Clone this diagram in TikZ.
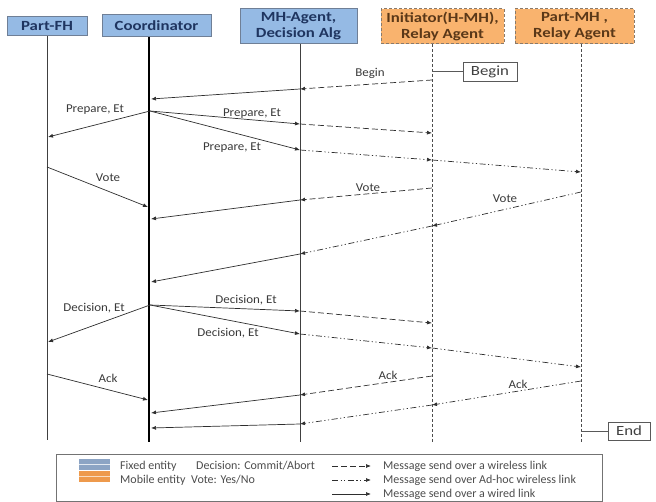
\documentclass[tikz,border=0pt]{standalone}
\usepackage{fontspec}
\setmainfont{Carlito}
\newfontfamily\hdfont[FakeStretch=1.2]{Carlito}
\newfontfamily\lbfont[FakeStretch=1.08]{Carlito}
\usetikzlibrary{arrows.meta}
\definecolor{fixedfill}{HTML}{95BAE4}
\definecolor{fixedline}{HTML}{6F7F96}
\definecolor{fixedtext}{HTML}{1F3560}
\definecolor{mobfill}{HTML}{F9B36E}
\definecolor{mobline}{HTML}{8A7A6A}
\definecolor{mobtext}{HTML}{5A3818}
\definecolor{msgcol}{HTML}{2E2E2E}
\definecolor{lblcol}{HTML}{3A3A3A}
\definecolor{swblue}{HTML}{8CA4C4}
\definecolor{sworange}{HTML}{EE9A4C}
\tikzset{
  fixedbox/.style={draw=fixedline, line width=1pt, fill=fixedfill, text=fixedtext,
    font=\hdfont\fontsize{14}{16}\selectfont\bfseries, align=center, inner sep=1pt},
  mobbox/.style={draw=mobline, line width=1pt, dash pattern=on 3pt off 2pt, fill=mobfill, text=mobtext,
    font=\hdfont\fontsize{14}{16}\selectfont\bfseries, align=center, inner sep=1pt},
  lifeline/.style={draw=black!75, line width=0.8pt},
  mlifeline/.style={draw=black!70, line width=0.8pt, dash pattern=on 3pt off 2pt},
  msg/.style={draw=msgcol, line width=0.7pt, -{Latex[length=5pt,width=4pt]}},
  wired/.style={msg},
  wl/.style={msg, dash pattern=on 6pt off 3pt},
  ah/.style={msg, dash pattern=on 6pt off 2.5pt on 1.2pt off 2.5pt on 1.2pt off 2.5pt},
  lbl/.style={font=\lbfont\fontsize{12}{13}\selectfont, text=lblcol, inner sep=1pt},
  termbox/.style={draw=black!65, line width=0.8pt, fill=white, font=\hdfont\fontsize{14}{16}\selectfont, text=black!75, inner sep=1pt},
  legtext/.style={font=\fontsize{12}{13}\selectfont, text=black!70, anchor=west, inner sep=0pt}
}
\begin{document}
\begin{tikzpicture}[x=1pt,y=-1pt]
\useasboundingbox (0,0) rectangle (656,502);
% headers
\node[fixedbox, minimum width=80, minimum height=19] (fh) at (47,26.5) {Part-FH};
\node[fixedbox, minimum width=109, minimum height=22] (co) at (156.5,26) {Coordinator};
\node[fixedbox, minimum width=117, minimum height=35] (mh) at (298.5,26.5) {MH-Agent,\\Decision Alg};
\node[mobbox, minimum width=123, minimum height=35] (in) at (442.5,26.5) {Initiator(H-MH),\\Relay Agent};
\node[mobbox, minimum width=119, minimum height=35] (pm) at (574.5,26.5) {Part-MH ,\\Relay Agent};
% lifelines
\coordinate (fhb) at (47,440);
\coordinate (cot) at (149,37); \coordinate (cob) at (149,442);
\coordinate (mht) at (300,44); \coordinate (mhb) at (300,442);
\coordinate (int) at (432,44); \coordinate (inb) at (432,442);
\coordinate (pmt) at (581,44); \coordinate (pmb) at (581,442);
\draw[lifeline] (fh.south) -- (fhb);
\draw[draw=black, line width=2pt] (cot) -- (cob);
\draw[lifeline] (mht) -- (mhb);
\draw[mlifeline] (int) -- (inb);
\draw[mlifeline] (pmt) -- (pmb);
% begin / end
\node[termbox, minimum width=54, minimum height=19] (begin) at (490,71.5) {Begin};
\coordinate (bgl) at (432,71.5);
\draw[draw=black!65, line width=0.7pt] (bgl) -- (begin.west);
\node[termbox, minimum width=42, minimum height=18] (end) at (629,431) {End};
\coordinate (enl) at (581,431);
\draw[draw=black!65, line width=0.7pt] (enl) -- (end.west);
% Begin message
\coordinate (bg0) at (432,80); \coordinate (bg1) at (300,89); \coordinate (bg2) at (151,99);
\draw[wl] (bg0) -- (bg1);
\draw[wired] (bg1) -- (bg2);
\node[lbl] (lbg) at (370,73) {Begin};
% Prepare
\coordinate (pc) at (150,111);
\coordinate (pf) at (48,137);
\coordinate (pm1) at (300,124); \coordinate (pi1) at (432,133);
\coordinate (pm2) at (300,150); \coordinate (pi2) at (432,160); \coordinate (pp2) at (581,172);
\draw[wired] (pc) -- (pf);
\draw[wired] (pc) -- (pm1);
\draw[wl] (pm1) -- (pi1);
\draw[wired] (pc) -- (pm2);
\draw[ah] (pm2) -- (pi2);
\draw[ah] (pi2) -- (pp2);
\node[lbl] (lp0) at (95,110) {Prepare, Et};
\node[lbl] (lp1) at (252,114) {Prepare, Et};
\node[lbl] (lp2) at (232,148) {Prepare, Et};
% Vote
\coordinate (vf0) at (47,167); \coordinate (vc0) at (148,207);
\coordinate (vi0) at (432,188); \coordinate (vm0) at (300,200); \coordinate (vc1) at (151,219);
\coordinate (vp0) at (581,192); \coordinate (vi1) at (432,226); \coordinate (vm1) at (300,254); \coordinate (vc2) at (151,282);
\draw[wired] (vf0) -- (vc0);
\draw[wl] (vi0) -- (vm0);
\draw[wired] (vm0) -- (vc1);
\draw[ah] (vp0) -- (vi1);
\draw[ah] (vi1) -- (vm1);
\draw[wired] (vm1) -- (vc2);
\node[lbl] (lv0) at (108,178) {Vote};
\node[lbl] (lv1) at (368,188) {Vote};
\node[lbl] (lv2) at (505,199) {Vote};
% Decision
\coordinate (dc) at (150,305); \coordinate (df) at (48,342);
\coordinate (dm1) at (300,311); \coordinate (di1) at (432,323);
\coordinate (dm2) at (300,334); \coordinate (di2) at (432,348); \coordinate (dp2) at (581,367);
\draw[wired] (dc) -- (df);
\draw[wired] (dc) -- (dm1);
\draw[wl] (dm1) -- (di1);
\draw[wired] (dc) -- (dm2);
\draw[ah] (dm2) -- (di2);
\draw[ah] (di2) -- (dp2);
\node[lbl] (ld0) at (94,308) {Decision, Et};
\node[lbl] (ld1) at (246,300) {Decision, Et};
\node[lbl] (ld2) at (228,333) {Decision, Et};
% Ack
\coordinate (af0) at (47,374); \coordinate (ac0) at (148,400);
\coordinate (ai0) at (432,376); \coordinate (am0) at (300,395); \coordinate (ac1) at (151,413);
\coordinate (ap0) at (581,381); \coordinate (ai1) at (432,405); \coordinate (am1) at (300,424); \coordinate (ac2) at (151,428);
\draw[wired] (af0) -- (ac0);
\draw[wl] (ai0) -- (am0);
\draw[wired] (am0) -- (ac1);
\draw[ah] (ap0) -- (ai1);
\draw[ah] (ai1) -- (am1);
\draw[wired] (am1) -- (ac2);
\node[lbl] (la0) at (108,378) {Ack};
\node[lbl] (la1) at (388,375) {Ack};
\node[lbl] (la2) at (518,384) {Ack};
% legend
\node[draw=black!55, line width=0.8pt, minimum width=546, minimum height=47, anchor=north west, inner sep=0pt] (leg) at (56,454) {};
\node[fill=swblue, minimum width=31, minimum height=11, inner sep=0pt, anchor=north west] (swb) at (79,459) {};
\node[fill=sworange, minimum width=31, minimum height=11, inner sep=0pt, anchor=north west] (swo) at (79,471) {};
\draw[white!75!swblue, line width=1pt] (swb.west) -- (swb.east);
\draw[white!65!sworange, line width=1pt] (swo.west) -- (swo.east);
\node[legtext] (tfix) at (120,466) {Fixed entity};
\node[legtext] (tdec) at (196,466) {Decision: Commit/Abort};
\node[legtext] (tmob) at (120,480) {Mobile entity};
\node[legtext] (tvote) at (191,480) {Vote: Yes/No};
\coordinate (lw0) at (332,466); \coordinate (lw1) at (371,466);
\coordinate (la0s) at (332,480); \coordinate (la1s) at (371,480);
\coordinate (lr0) at (332,494); \coordinate (lr1) at (371,494);
\draw[wl] (lw0) -- (lw1);
\draw[ah] (la0s) -- (la1s);
\draw[wired] (lr0) -- (lr1);
\node[legtext] (tw) at (383,466) {Message send over a wireless link};
\node[legtext] (ta) at (383,480) {Message send over Ad-hoc wireless link};
\node[legtext] (tr) at (383,494) {Message send over a wired link};
\end{tikzpicture}
\end{document}
